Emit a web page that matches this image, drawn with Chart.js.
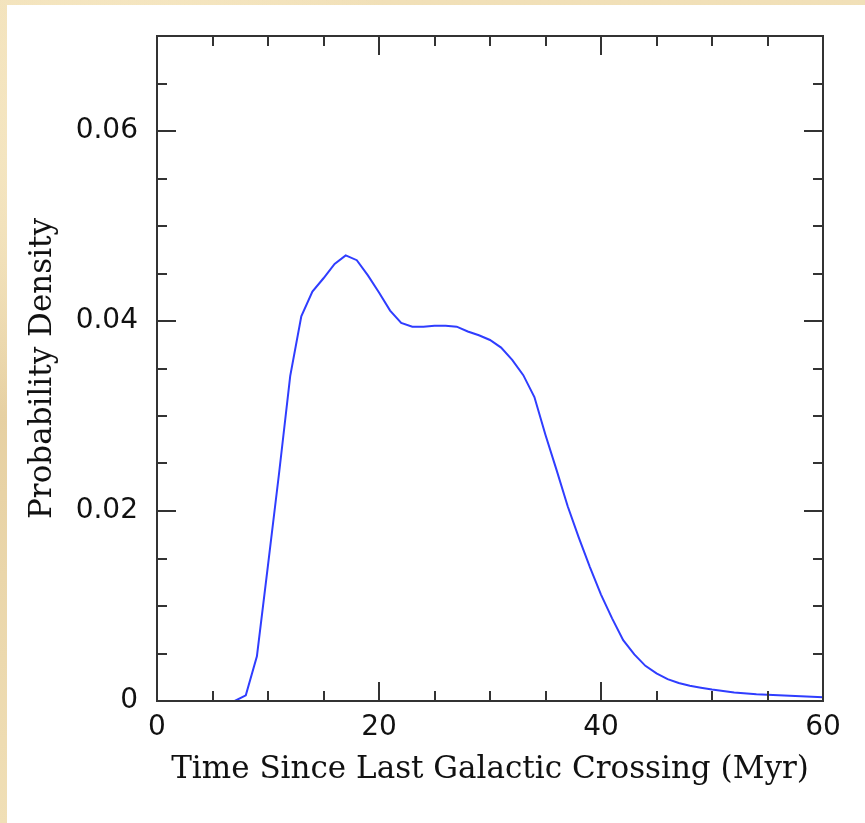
<!DOCTYPE html>
<html>
<head>
<meta charset="utf-8">
<script src="https://cdn.jsdelivr.net/npm/chart.js@4"></script>
<style>
  html, body { margin: 0; padding: 0; }
  body {
    width: 865px; height: 823px; overflow: hidden;
    background: #efdcb2;
    background-image:
      radial-gradient(ellipse at 15% 20%, rgba(250,238,205,0.9), transparent 30%),
      radial-gradient(ellipse at 60% 70%, rgba(222,198,150,0.7), transparent 35%),
      radial-gradient(ellipse at 85% 35%, rgba(248,234,200,0.8), transparent 30%),
      linear-gradient(180deg, #f1e0b8, #e6d0a2 50%, #f0dfb6);
  }
  #panel {
    position: absolute; left: 7px; top: 5px;
    width: 858px; height: 818px; background: #fff;
  }
</style>
</head>
<body>
<div id="panel"><canvas id="c" width="858" height="818"></canvas></div>
<script>
// time since last crossing (Myr) and probability density
const times = [6, 7, 8, 9, 10, 11, 12, 13, 14, 15, 16, 17, 18, 19, 20,
  21, 22, 23, 24, 25, 26, 27, 28, 29, 30, 31, 32, 33, 34, 35, 36, 37, 38,
  39, 40, 41, 42, 43, 44, 45, 46, 47, 48, 49, 50, 52, 54, 56, 58, 60];
const density = [0, 0, 0.0006, 0.0047, 0.0143, 0.0240, 0.0342, 0.0405,
  0.0431, 0.0445, 0.0460, 0.0469, 0.0464, 0.0448, 0.0430, 0.0411, 0.0398,
  0.0394, 0.0394, 0.0395, 0.0395, 0.0394, 0.0389, 0.0385, 0.0380, 0.0372,
  0.0359, 0.0343, 0.0320, 0.0280, 0.0243, 0.0205, 0.0172, 0.0141, 0.0112,
  0.0087, 0.0064, 0.0049, 0.0037, 0.0029, 0.0023, 0.0019, 0.0016, 0.0014,
  0.0012, 0.0009, 0.0007, 0.0006, 0.0005, 0.0004];

const xTicks = [0, 20, 40, 60];
const yTicks = [0, 0.02, 0.04, 0.06];
const xMinorStep = 5;
const yMinorStep = 0.005;

const axisColor = '#333';
const labelFont = { family: 'DejaVu Sans', size: 28 };
const titleFont = { family: 'DejaVu Serif', size: 31 };

// inward ticks on all four sides, like the original PGPLOT frame
const frameTicks = {
  id: 'frameTicks',
  afterDraw(chart) {
    const { ctx, chartArea: a, scales: { x, y } } = chart;
    ctx.save();
    ctx.strokeStyle = axisColor;
    ctx.lineWidth = 2;
    ctx.strokeRect(a.left, a.top, a.right - a.left, a.bottom - a.top);
    ctx.beginPath();
    for (let v = x.min; v <= x.max + 1e-9; v += xMinorStep) {
      const px = Math.round(x.getPixelForValue(v));
      const len = xTicks.includes(v) ? 19 : 10;
      ctx.moveTo(px, a.bottom); ctx.lineTo(px, a.bottom - len);
      ctx.moveTo(px, a.top); ctx.lineTo(px, a.top + len);
    }
    for (let i = 0; i * yMinorStep <= y.max + 1e-9; i++) {
      const v = i * yMinorStep;
      const py = Math.round(y.getPixelForValue(v));
      const len = i % 4 === 0 ? 19 : 10;
      ctx.moveTo(a.left, py); ctx.lineTo(a.left + len, py);
      ctx.moveTo(a.right, py); ctx.lineTo(a.right - len, py);
    }
    ctx.stroke();
    ctx.restore();
  }
};

new Chart(document.getElementById('c'), {
  type: 'line',
  data: {
    datasets: [{
      data: times.map((t, i) => ({ x: t, y: density[i] })),
      borderColor: '#2f3dff',
      borderWidth: 2,
      pointRadius: 0,
      tension: 0,
      fill: false
    }]
  },
  options: {
    responsive: false,
    animation: false,
    layout: { padding: { top: 31, right: 42, left: 0, bottom: 0 } },
    plugins: { legend: { display: false }, tooltip: { enabled: false } },
    scales: {
      x: {
        type: 'linear', min: 0, max: 60,
        afterBuildTicks: s => { s.ticks = xTicks.map(v => ({ value: v })); },
        afterFit: s => { s.height = 122; },
        grid: { display: false, drawTicks: false },
        border: { display: false },
        ticks: { color: '#111', font: labelFont, padding: 10, maxRotation: 0 },
        title: {
          display: true, text: 'Time Since Last Galactic Crossing (Myr)',
          color: '#111', font: titleFont, padding: { bottom: 34 }
        }
      },
      y: {
        type: 'linear', min: 0, max: 0.07,
        afterBuildTicks: s => { s.ticks = yTicks.map(v => ({ value: v })); },
        afterFit: s => { s.width = 150; s.paddingTop = 0; s.paddingBottom = 0; },
        grid: { display: false, drawTicks: false },
        border: { display: false },
        ticks: {
          color: '#111', font: labelFont, padding: 19,
          callback: v => v === 0 ? '0' : v.toFixed(2)
        },
        title: {
          display: true, text: 'Probability Density',
          color: '#111', font: titleFont, padding: { top: 17 }
        }
      }
    }
  },
  plugins: [frameTicks]
});
</script>
</body>
</html>
